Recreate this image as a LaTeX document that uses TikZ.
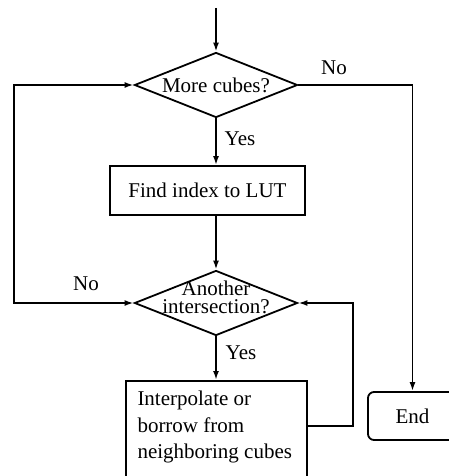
\documentclass[tikz,border=0pt]{standalone}
\usepackage{fontspec}
\setmainfont{Liberation Serif}
\usetikzlibrary{positioning,shapes.geometric,arrows.meta}

\begin{document}
\begin{tikzpicture}[x=0.5pt, y=-0.5pt, line width=0.9pt,
		>={Latex[length=4.5pt,width=3pt]},
		font=\fontsize{10.5}{13.2}\selectfont,
		decision/.style={diamond, draw, inner sep=0pt, shape aspect=2.5, minimum width=81.5pt, minimum height=32.5pt},
		process/.style={rectangle, draw, inner sep=0pt},
		terminal/.style={rectangle, draw, rounded corners=3pt, minimum width=44.5pt, minimum height=24pt}]
			\useasboundingbox (0,0) rectangle (449,476);
			\coordinate (entry) at (216,8);
			\coordinate (leftrail) at (14,0);
			\coordinate (backrail) at (353,426);
			\node[decision]   (more)    at (216,85)      {More cubes?};
			\node[process, minimum width=97.5pt, minimum height=24.5pt] (lut) at (207.5,190.5) {Find index to LUT};
			\node[decision, align=center, text height=10pt, text depth=-3pt, font=\fontsize{10.5}{9}\selectfont] (another) at (216,303) {Another\\intersection?};
			\node[process, anchor=north, text width=79pt, align=flush left, inner xsep=5.75pt, inner ysep=5pt, text height=7.4pt, text depth=33pt, xshift=1pt] (interp) at (214.5,380) {Interpolate or\\borrow from\\neighboring cubes};
			\node[terminal]   (stop)    at (412.5,416)   {End};
			\node (no_top)   at (334,68)  {No};
			\node (no_left)  at (86,284)  {No};
			\node (yes_top)  at (240,139) {Yes};
			\node (yes_low)  at (241,353) {Yes};
			\draw[->] (entry) -- (more.north);
			\draw[->] (more.south) -- (more.south |- lut.north);
			\draw[->] (another.north |- lut.south) -- (another.north);
			\draw[->] (another.south) -- (another.south |- interp.north);
			\draw[->] (more.east) -| (stop.north);
			\draw[<->] (another.west) -- (another.west -| leftrail) |- (more.west);
			\draw[->] (interp.east |- backrail) -- (backrail) |- (another.east);
		\end{tikzpicture}
\end{document}
